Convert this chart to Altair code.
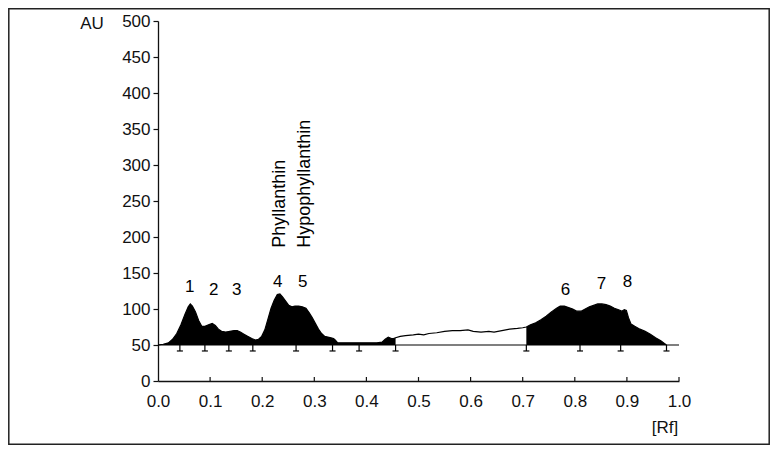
import altair as alt
import pandas as pd

# ---- densitometric trace (Rf vs AU) ----
# segment A : integrated (filled) region
rf_a = [0.000, 0.010, 0.020, 0.028, 0.036, 0.044, 0.052, 0.058, 0.062, 0.066, 0.072, 0.078,
        0.084, 0.090, 0.097, 0.104, 0.110, 0.116, 0.122, 0.130, 0.138, 0.146, 0.152, 0.158,
        0.165, 0.172, 0.180, 0.187, 0.193, 0.199, 0.205, 0.211, 0.217, 0.223, 0.229, 0.234,
        0.239, 0.245, 0.251, 0.257, 0.263, 0.270, 0.277, 0.284, 0.290, 0.296, 0.302, 0.308,
        0.314, 0.320, 0.326, 0.332, 0.337, 0.340, 0.345, 0.360, 0.380, 0.400, 0.420, 0.430,
        0.436, 0.442, 0.448, 0.452, 0.456]
au_a = [50, 51, 53, 58, 66, 78, 93, 103, 107, 104, 96, 84,
        76, 76, 78, 80, 77, 72, 69, 68, 69, 70, 70, 68,
        65, 62, 59, 57, 58, 62, 71, 86, 101, 112, 120, 121,
        117, 111, 105, 103, 104, 104, 103, 101, 95, 88, 80, 72,
        66, 62, 61, 60, 59, 57, 53, 53, 53, 53, 53, 54,
        58, 61, 59, 59, 60]
# segment B : not integrated (line only)
rf_b = [0.456, 0.465, 0.475, 0.490, 0.500, 0.510, 0.520, 0.535, 0.550, 0.565, 0.580, 0.595,
        0.605, 0.620, 0.635, 0.645, 0.660, 0.675, 0.690, 0.700, 0.707]
au_b = [60, 62, 63, 64, 65, 64, 66, 67, 69, 70, 70, 71,
        69, 68, 69, 68, 70, 72, 73, 74, 75]
# segment C : integrated (filled) region
rf_c = [0.707, 0.715, 0.725, 0.735, 0.745, 0.755, 0.765, 0.772, 0.780, 0.788, 0.796, 0.804,
        0.812, 0.820, 0.828, 0.836, 0.844, 0.852, 0.860, 0.868, 0.876, 0.884, 0.890, 0.895,
        0.899, 0.903, 0.908, 0.915, 0.925, 0.935, 0.945, 0.955, 0.965, 0.972, 0.976]
au_c = [75, 78, 81, 85, 90, 96, 101, 104, 104, 102, 100, 97,
        97, 100, 103, 105, 107, 107, 106, 104, 101, 99, 97, 99,
        98, 88, 79, 76, 72, 69, 65, 60, 56, 52, 50]

baseline_au = 50
marker_rf = [0.042, 0.090, 0.136, 0.182, 0.265, 0.335, 0.386, 0.456, 0.707, 0.810, 0.888, 0.976]

peak_labels = ["1", "2", "3", "4", "5", "6", "7", "8"]
peak_rf = [0.061, 0.107, 0.151, 0.230, 0.278, 0.782, 0.851, 0.901]
peak_au = [131, 127, 127, 137, 137, 127, 135, 137]

comp_names = ["Phyllanthin", "Hypophyllanthin"]
comp_rf = [0.234, 0.283]
comp_au = [185, 185]

x_ticks = [0.0, 0.1, 0.2, 0.3, 0.4, 0.5, 0.6, 0.7, 0.8, 0.9, 1.0]
y_ticks = [0, 50, 100, 150, 200, 250, 300, 350, 400, 450, 500]

FONT = "Liberation Sans"
W, H = 521, 360

trace = pd.DataFrame({
    "rf": rf_a + rf_b + rf_c,
    "au": au_a + au_b + au_c,
    "seg": ["A"] * len(rf_a) + ["B"] * len(rf_b) + ["C"] * len(rf_c),
})
trace["order"] = range(len(trace))
trace["base"] = baseline_au
filled = trace[trace["seg"] != "B"]

xs = alt.Scale(domain=[0, 1], nice=False, zero=False)
ys = alt.Scale(domain=[0, 500], nice=False)

x_axis = alt.Axis(values=x_ticks, format=".1f", title=None, grid=False, ticks=False,
                  labelPadding=12, labelFontSize=17, labelFont=FONT, labelColor="#111",
                  domainColor="#111", domainWidth=1.3, labelOverlap=False, labelFlush=False)
y_axis = alt.Axis(values=y_ticks, title=None, grid=False, tickSize=5, tickColor="#111",
                  tickWidth=1.2, labelPadding=3, labelFontSize=17, labelFont=FONT,
                  labelColor="#111", domainColor="#111", domainWidth=1.3, labelOverlap=False,
                  labelFlush=False)


def X(f):
    return alt.X(f, scale=xs, axis=x_axis)


def Y(f):
    return alt.Y(f, scale=ys, axis=y_axis)


line = alt.Chart(trace).mark_line(color="black", strokeWidth=1.2).encode(
    x=X("rf:Q"), y=Y("au:Q"), order="order:Q")

area = alt.Chart(filled).mark_area(color="black", opacity=1).encode(
    x=X("rf:Q"), y=Y("au:Q"), y2="base:Q", detail="seg:N")

baseline = alt.Chart(pd.DataFrame({"a": [0.0], "b": [1.0], "y": [baseline_au]})).mark_rule(
    color="black", strokeWidth=1.2).encode(x=X("a:Q"), x2="b:Q", y=Y("y:Q"))

mk = pd.DataFrame({"rf": marker_rf})
stems = alt.Chart(mk).transform_calculate(
    top=str(baseline_au), bot=str(baseline_au - 8.3)).mark_rule(color="black", strokeWidth=1.2).encode(
    x=X("rf:Q"), y=Y("top:Q"), y2="bot:Q")
feet = alt.Chart(mk).transform_calculate(
    l="datum.rf - 0.0058", r="datum.rf + 0.0058", bot=str(baseline_au - 8.3)).mark_rule(
    color="black", strokeWidth=1.2).encode(x=X("l:Q"), x2="r:Q", y=Y("bot:Q"))

xt = pd.DataFrame({"x": x_ticks[1:], "y0": [0.0] * 10, "y1": [5.5] * 10})
xtick_marks = alt.Chart(xt).mark_rule(color="#111", strokeWidth=1.2).encode(
    x=X("x:Q"), y=Y("y0:Q"), y2="y1:Q")

peaks = alt.Chart(pd.DataFrame({"rf": peak_rf, "au": peak_au, "t": peak_labels})).mark_text(
    font=FONT, fontSize=17, color="black", baseline="middle", align="center").encode(
    x=X("rf:Q"), y=Y("au:Q"), text="t:N")

comps = alt.Chart(pd.DataFrame({"rf": comp_rf, "au": comp_au, "t": comp_names})).mark_text(
    font=FONT, fontSize=18, color="black", angle=270, align="left", baseline="middle").encode(
    x=X("rf:Q"), y=Y("au:Q"), text="t:N")

au_lbl = alt.Chart(pd.DataFrame({"t": ["AU"]})).mark_text(
    font=FONT, fontSize=17, color="#111", align="center", baseline="middle").encode(
    x=alt.value(-66), y=alt.value(3), text="t:N")
rf_lbl = alt.Chart(pd.DataFrame({"t": ["[Rf]"]})).mark_text(
    font=FONT, fontSize=17, color="#111", align="center", baseline="middle").encode(
    x=alt.value(507), y=alt.value(407), text="t:N")

frame = alt.Chart(pd.DataFrame({"t": [0]})).mark_rect(
    filled=False, stroke="#222", strokeWidth=1.5).encode(
    x=alt.value(-149.2), x2=alt.value(W + 90.2), y=alt.value(-12.2), y2=alt.value(H + 63.2))

chart = alt.layer(line, area, baseline, stems, feet, xtick_marks, peaks, comps, au_lbl, rf_lbl, frame).properties(
    width=W, height=H,
    padding={"left": 150, "top": 13, "right": 91, "bottom": 64},
    autosize=alt.AutoSizeParams(type="none"),
    background="white",
).configure_view(stroke=None)

chart.save("out.html", embed_options={"renderer": "svg", "actions": False})
